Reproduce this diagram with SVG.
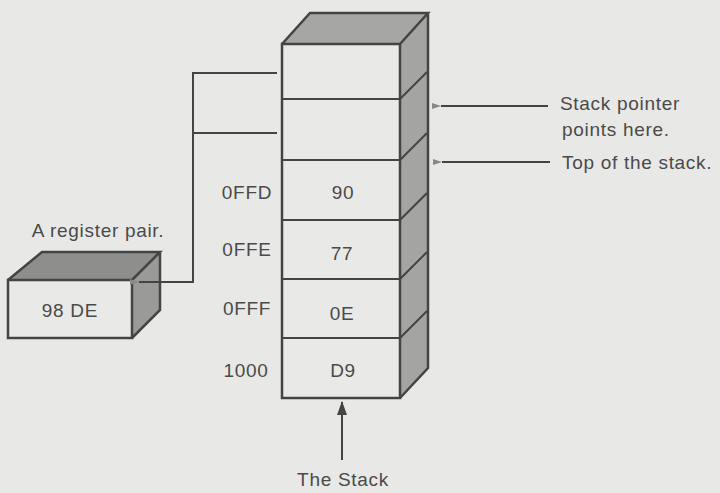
<svg xmlns="http://www.w3.org/2000/svg" width="720" height="493" viewBox="0 0 720 493">
<defs>
<style>
.t{font-family:"Liberation Sans",Arial,sans-serif;font-size:19px;fill:#4a4a4a;letter-spacing:0.7px}
.c{text-anchor:middle}
.e{fill:none;stroke:#444;stroke-width:2.5;stroke-linejoin:miter}
.ln{fill:none;stroke:#444;stroke-width:2}
.face{fill:#e9e9e7}
.top{fill:#a6a6a4}
.side{fill:#a4a4a2}
.rtop{fill:#8e8e8c}
.rside{fill:#9a9a98}
</style>
<marker id="ah" markerWidth="10" markerHeight="8" refX="1" refY="4" orient="auto" markerUnits="userSpaceOnUse">
<path d="M10,1 L1,4 L10,7 Z" fill="#888"/>
</marker>
<marker id="big" markerWidth="12" markerHeight="14" refX="6" refY="1" orient="0" markerUnits="userSpaceOnUse">
<path d="M6,0 L11,14 L1,14 Z" fill="#444"/>
</marker>
</defs>
<rect width="720" height="493" fill="#e8e8e6"/>

<g id="stack">
<polygon class="top" points="282,44 310,13 428,13 400,44"/>
<polygon class="side" points="400,44 428,13 428,368 400,398"/>
<rect class="face" x="282" y="44" width="118" height="354"/>
<path class="e" d="M282,44 L310,13 L428,13 L400,44 M428,13 L428,368 L400,398"/>
<rect class="e" x="282" y="44" width="118" height="354"/>
<path class="ln" d="M282,99 H400 M282,160 H400 M282,220 H400 M282,279 H400 M282,338 H400"/>
<path class="ln" stroke-width="1.5" d="M400,99 L427,72 M400,160 L427,133 M400,220 L427,193 M400,279 L427,252 M400,338 L427,311"/>
<text class="t c" x="343" y="199">90</text>
<text class="t c" x="342" y="260">77</text>
<text class="t c" x="342" y="320">0E</text>
<text class="t c" x="343" y="377">D9</text>
</g>

<g id="addresses">
<text class="t c" x="247" y="199">0FFD</text>
<text class="t c" x="247" y="256">0FFE</text>
<text class="t c" x="247" y="315">0FFF</text>
<text class="t c" x="246" y="377">1000</text>
</g>

<g id="register">
<polygon class="rtop" points="8,280 42,252 160,252 132,280"/>
<polygon class="rside" points="132,280 160,252 160,310 132,338"/>
<rect class="face" x="8" y="280" width="124" height="58"/>
<path class="e" d="M8,280 L42,252 L160,252 L132,280 M160,252 L160,310 L132,338"/>
<rect class="e" x="8" y="280" width="124" height="58"/>
<text class="t c" x="70" y="317">98 DE</text>
<text class="t c" x="98" y="237">A register pair.</text>
</g>

<g id="labels">
<text class="t" x="560" y="110">Stack pointer</text>
<text class="t" x="562" y="136">points here.</text>
<text class="t" x="562" y="169">Top of the stack.</text>
<text class="t c" x="343" y="486">The Stack</text>
</g>

<g id="connectors">
<polyline class="ln" points="277,73 193,73 193,282 139,282" marker-end="url(#ah)"/>
<line class="ln" x1="193" y1="133" x2="277" y2="133"/>
<line class="ln" x1="548" y1="106" x2="441" y2="106" marker-end="url(#ah)"/>
<line class="ln" x1="550" y1="162" x2="442" y2="162" marker-end="url(#ah)"/>
<line class="ln" x1="342" y1="460" x2="342" y2="402" marker-end="url(#big)"/>
</g>
</svg>
